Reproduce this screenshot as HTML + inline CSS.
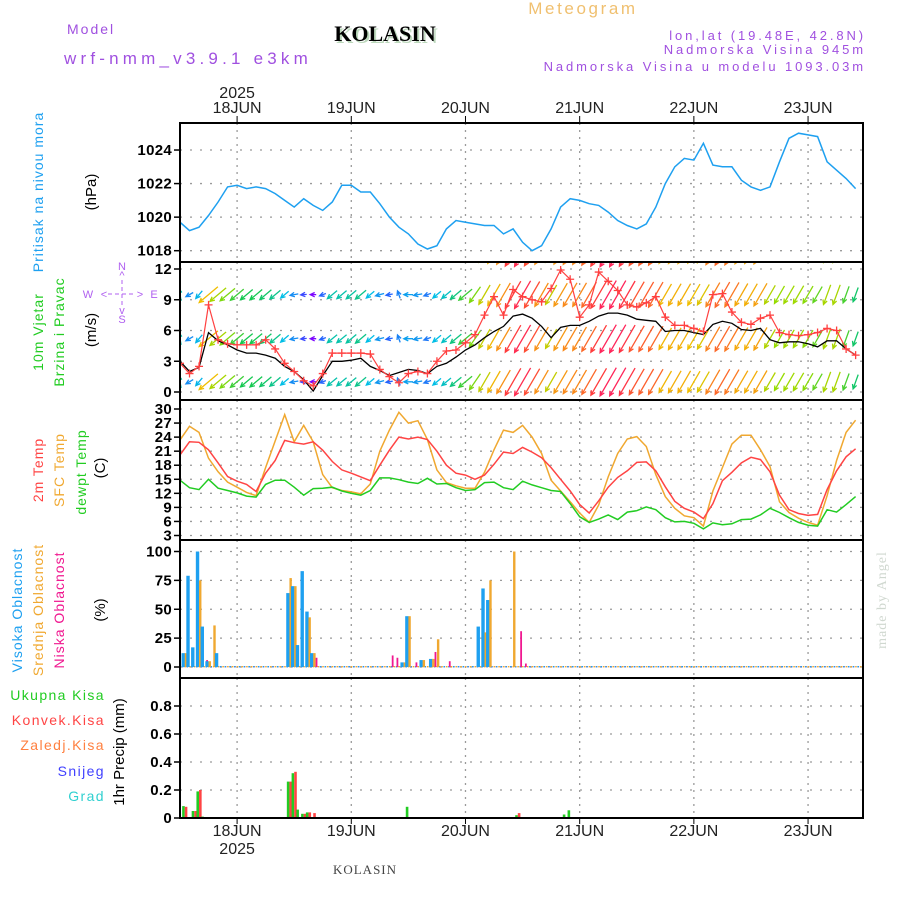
<!DOCTYPE html>
<html><head><meta charset="utf-8"><style>
html,body{margin:0;padding:0;background:#fff;}
svg{display:block;font-family:"Liberation Sans",sans-serif;}
</style></head><body>
<svg id="chart" width="900" height="900" viewBox="0 0 900 900" xmlns="http://www.w3.org/2000/svg">
<defs>
<clipPath id="cp1"><rect x="180" y="123" width="683" height="139"/></clipPath>
<clipPath id="cp2"><rect x="180" y="262" width="683" height="138"/></clipPath>
<clipPath id="cp3"><rect x="180" y="400" width="683" height="140"/></clipPath>
<clipPath id="cp4"><rect x="180" y="540" width="683" height="138"/></clipPath>
<clipPath id="cp5"><rect x="180" y="678" width="683" height="140"/></clipPath>
</defs>
<g>
<text x="583" y="14" font-size="17" fill="#f0c070" text-anchor="middle" letter-spacing="2.6">Meteogram</text>
<text x="67" y="34" font-size="14" fill="#a050e0" letter-spacing="2">Model</text>
<text x="64" y="64" font-size="17" fill="#a050e0" letter-spacing="4.2">wrf-nmm_v3.9.1 e3km</text>
<text x="387" y="43" font-size="22" font-weight="bold" font-family="Liberation Serif,serif" fill="#bcd8bc" text-anchor="middle">KOLASIN</text>
<text x="385" y="41" font-size="22" font-weight="bold" font-family="Liberation Serif,serif" fill="#000" text-anchor="middle">KOLASIN</text>
<text x="866" y="40" font-size="13" fill="#a050e0" text-anchor="end" letter-spacing="2.9">lon,lat (19.48E, 42.8N)</text>
<text x="866" y="54" font-size="13" fill="#a050e0" text-anchor="end" letter-spacing="2.9">Nadmorska Visina 945m</text>
<text x="866" y="71" font-size="13" fill="#a050e0" text-anchor="end" letter-spacing="2.9">Nadmorska Visina u modelu 1093.03m</text>
</g>
<g>
<text transform="translate(43,192) rotate(-90)" font-size="14" fill="#1ea0f0" text-anchor="middle" letter-spacing="1">Pritisak na nivou mora</text>
<text transform="translate(96,192) rotate(-90)" font-size="15" fill="#000" text-anchor="middle">(hPa)</text>
<text transform="translate(43,332) rotate(-90)" font-size="14" fill="#22cc22" text-anchor="middle" letter-spacing="1">10m Vjetar</text>
<text transform="translate(64,332) rotate(-90)" font-size="14" fill="#22cc22" text-anchor="middle" letter-spacing="1">Brzina i Pravac</text>
<text transform="translate(96,330) rotate(-90)" font-size="15" fill="#000" text-anchor="middle">(m/s)</text>
<g fill="#b060f0" font-size="11" text-anchor="middle">
<text x="88" y="298">W</text><text x="154" y="298">E</text><text x="122" y="270">N</text><text x="122" y="323">S</text>
<text x="104" y="298">&lt;</text><text x="140" y="298">&gt;</text><text x="122" y="279">^</text><text x="122" y="314">v</text>
<line x1="108" y1="294" x2="136" y2="294" stroke="#b060f0" stroke-dasharray="4,3"/>
<line x1="122" y1="280" x2="122" y2="308" stroke="#b060f0" stroke-dasharray="4,3"/>
</g>
<text transform="translate(43,470) rotate(-90)" font-size="14" fill="#ff4444" text-anchor="middle" letter-spacing="1">2m Temp</text>
<text transform="translate(64,470) rotate(-90)" font-size="14" fill="#f0a830" text-anchor="middle" letter-spacing="1">SFC Temp</text>
<text transform="translate(86,472) rotate(-90)" font-size="14" fill="#22cc22" text-anchor="middle" letter-spacing="1">dewpt Temp</text>
<text transform="translate(105,468) rotate(-90)" font-size="15" fill="#000" text-anchor="middle">(C)</text>
<text transform="translate(22,610) rotate(-90)" font-size="14" fill="#1ea0f0" text-anchor="middle" letter-spacing="1">Visoka Oblacnost</text>
<text transform="translate(43,610) rotate(-90)" font-size="14" fill="#f0a830" text-anchor="middle" letter-spacing="1">Srednja Oblacnost</text>
<text transform="translate(64,610) rotate(-90)" font-size="14" fill="#f01890" text-anchor="middle" letter-spacing="1">Niska Oblacnost</text>
<text transform="translate(105,610) rotate(-90)" font-size="15" fill="#000" text-anchor="middle">(%)</text>
<text x="105" y="700" font-size="14" fill="#22cc22" text-anchor="end" letter-spacing="1.4">Ukupna  Kisa</text>
<text x="105" y="725" font-size="14" fill="#ff4444" text-anchor="end" letter-spacing="1.4">Konvek.Kisa</text>
<text x="105" y="750" font-size="14" fill="#ff8040" text-anchor="end" letter-spacing="1.4">Zaledj.Kisa</text>
<text x="105" y="776" font-size="14" fill="#4040ff" text-anchor="end" letter-spacing="1.4">Snijeg</text>
<text x="105" y="801" font-size="14" fill="#30d0d0" text-anchor="end" letter-spacing="1.4">Grad</text>
<text transform="translate(124,752) rotate(-90)" font-size="15" fill="#000" text-anchor="middle">1hr Precip (mm)</text>
</g>
<text transform="translate(886,600) rotate(-90)" font-size="14" fill="#d0d8d0" font-family="Liberation Serif,serif" text-anchor="middle" letter-spacing="1">made by Angel</text>
<text x="365" y="874" font-size="13" fill="#444" font-family="Liberation Serif,serif" text-anchor="middle" letter-spacing="1">KOLASIN</text>
<g id="plots"></g>
</svg>
<script>
// time: 2-hourly from 17JUN 12Z (hour 0)
const hours = [];
for (let i = 0; i < 72; i++) hours.push(i * 2);
const dayLabels = ['18JUN','19JUN','20JUN','21JUN','22JUN','23JUN'];
const dayHours = [12, 36, 60, 84, 108, 132];

const pressure = [1019.7,1019.2,1019.4,1020.1,1020.9,1021.8,1021.9,1021.7,1021.8,1021.7,1021.4,1021.0,1020.6,1021.1,1020.7,1020.4,1020.9,1021.9,1021.9,1021.5,1021.5,1020.8,1020.0,1019.4,1019.0,1018.4,1018.1,1018.3,1019.3,1019.8,1019.7,1019.6,1019.5,1019.5,1019.0,1019.3,1018.5,1018.0,1018.3,1019.3,1020.6,1021.1,1021.0,1020.8,1020.7,1020.3,1019.8,1019.5,1019.3,1019.6,1020.6,1022.0,1023.0,1023.5,1023.4,1024.4,1023.1,1023.0,1023.0,1022.2,1021.8,1021.6,1021.8,1023.3,1024.7,1025.0,1024.9,1024.8,1023.3,1022.8,1022.3,1021.7];
const pressureTicks = [1018,1020,1022,1024];

const windSpeed = [3.0,2.0,2.4,5.8,5.0,4.6,4.1,3.8,3.8,3.6,3.3,2.5,2.0,1.2,0.1,1.6,3.0,3.0,3.1,3.3,2.5,2.1,1.6,1.9,2.2,2.1,1.8,2.5,2.8,3.4,4.1,4.6,5.3,5.9,6.4,7.4,7.6,7.2,6.4,5.3,6.3,6.5,6.5,6.9,7.4,7.7,7.7,7.5,7.1,7.0,6.9,5.9,6.0,6.0,5.8,5.6,6.6,6.9,6.7,6.1,6.0,6.2,5.1,4.8,4.9,4.9,4.7,4.4,5.0,5.0,4.2,3.6];
const windGust = [2.8,1.8,2.5,8.5,5.1,4.7,4.6,4.6,4.6,5.1,4.2,2.8,2.0,1.1,0.6,1.8,3.8,3.8,3.8,3.8,3.7,2.2,1.5,0.9,1.8,2.0,1.8,3.0,4.0,4.1,4.8,5.6,7.5,9.3,7.5,10.0,9.3,9.0,8.8,10.1,11.9,11.0,7.3,8.5,11.7,10.8,9.9,8.5,8.3,8.7,9.3,7.3,6.5,6.5,6.2,5.9,9.5,9.6,7.8,6.8,6.6,7.2,7.5,5.8,5.6,5.5,5.6,5.8,6.2,6.0,4.2,3.6];
// arrow pointing direction (screen degrees, 0=east, 90=south)
const windDir = [260,150,130,140,140,140,140,140,140,140,140,140,170,175,180,160,140,140,140,140,140,165,170,250,180,170,160,140,140,140,140,125,120,120,120,120,120,120,120,120,120,120,120,120,120,120,120,120,120,120,120,120,120,120,120,120,120,120,120,120,120,120,120,120,120,120,120,120,110,110,110,110];
const windRows = [1.0, 5.2, 9.5, 13.6];
const windTicks = [0,3,6,9,12];

const temp2m = [20.2,23.0,22.9,21.3,18.5,15.6,14.6,13.9,12.4,16.3,19.0,23.3,22.8,22.5,23.0,21.2,18.8,17.0,16.3,15.5,14.7,18.0,21.2,24.0,23.6,24.0,23.5,21.0,18.0,16.3,15.9,15.0,15.9,18.2,20.8,20.5,21.8,20.8,19.6,17.5,15.0,12.5,9.6,7.8,10.4,13.3,15.4,16.8,18.6,18.7,16.8,13.4,10.3,8.8,8.0,6.6,9.8,14.7,16.5,18.5,19.7,19.2,16.6,11.6,8.5,7.7,7.3,7.5,12.8,16.8,19.8,21.5];
const tempSfc = [23.4,26.3,25.0,19.5,16.6,14.4,13.3,12.2,11.5,17.5,23.2,28.8,23.0,26.5,23.0,16.0,13.2,12.6,12.3,11.9,14.0,21.0,25.5,29.3,27.0,27.5,23.5,17.0,14.3,13.6,13.1,13.1,16.5,21.3,25.5,25.0,26.5,24.0,20.5,14.8,12.5,10.2,7.8,5.8,9.5,15.5,20.5,23.6,24.1,22.0,16.0,11.3,8.8,7.2,6.8,5.0,12.5,17.5,22.5,24.4,24.4,21.3,17.7,10.2,7.9,6.7,5.8,5.2,11.5,19.0,25.0,27.6];
const dewpoint = [14.8,13.2,12.8,15.0,13.1,12.6,12.1,11.4,11.2,13.9,14.8,14.8,13.3,11.6,13.0,13.1,13.3,12.5,12.0,11.6,12.6,15.3,15.3,14.9,14.4,14.1,15.2,14.0,14.1,13.2,12.6,12.8,14.3,14.4,13.2,12.8,14.6,13.8,13.2,12.6,12.4,9.8,7.0,5.8,6.5,7.4,6.4,8.0,8.3,9.1,8.5,6.8,5.9,6.0,5.6,4.4,5.7,5.3,5.5,6.4,6.5,7.4,8.8,7.9,6.8,5.8,5.2,5.0,8.5,8.0,9.6,11.3];
const tempTicks = [3,6,9,12,15,18,21,24,27,30];

const cloudHours = [1,2,3,4,5,6,7,8,23,24,25,26,27,28,44,45,47,48,49,51,52,53,54,56,63,64,65,70,71,72];
const cloudHigh  = [12,79,17,100,35,5,0,12,64,70,19,83,48,12,0,0,4,44,0,6,0,7,0,0,35,68,58,0,0,0];
const cloudMid   = [12,0,0,75,0,5,36,0,77,70,0,0,43,12,0,0,4,44,0,6,0,7,24,0,0,30,75,100,0,0];
const cloudLow   = [0,10,0,0,6,0,0,0,0,0,45,26,0,8,10,8,0,0,4,0,2,13,0,5,0,0,0,0,31,3];
const cloudTicks = [0,25,50,75,100];

const precipHours = [1,3,4,5,23,24,25,26,27,28,48,53,71,81,82];
const precipTotal = [0.085,0.05,0.19,0.01,0.26,0.32,0.06,0.03,0.04,0.0,0.08,0.0,0.02,0.025,0.055];
const precipConv  = [0.08,0.05,0.2,0.0,0.26,0.33,0.0,0.03,0.04,0.035,0.0,0.005,0.035,0.0,0.0];
const precipTicks = [0,0.2,0.4,0.6,0.8];
const precipTickLabels = ['0','0.2','0.4','0.6','0.8'];

const NS = 'http://www.w3.org/2000/svg';
const root = document.getElementById('plots');
function el(tag, attrs, parent) {
  const e = document.createElementNS(NS, tag);
  for (const k in attrs) e.setAttribute(k, attrs[k]);
  (parent || root).appendChild(e);
  return e;
}
const X0 = 180, X1 = 863, PXH = 4.758;
const xOf = h => X0 + h * PXH;
const yP = p => 250.7 - (p - 1018) * 16.78;
const yW = w => 392 - w * 10.25;
const yT = t => 535.5 - (t - 3) * 4.685;
const yC = c => 667 - c * 1.155;
const yR = v => 818 - v * 140;
const panels = [[123,262,yP,pressureTicks,null,'pressure'],[262,400,yW,windTicks,null,'wind'],[400,540,yT,tempTicks,null,'temperature'],[540,678,yC,cloudTicks,null,'cloud'],[678,818,yR,precipTicks,precipTickLabels,'precip']];

panels.forEach((p, pi) => {
  const g = el('g', {});
  
  
  dayHours.forEach(h => {
    const ln = el('line', {x1: xOf(h), x2: xOf(h), y1: p[0], y2: p[1], stroke: '#9a9a9a', 'stroke-width': 1.3, 'stroke-dasharray': '2,5'}, g);
    
    
  });
  p[3].forEach((t, i) => {
    const y = p[2](t);
    const gl = el('line', {x1: X0, x2: X1, y1: y, y2: y, stroke: '#9a9a9a', 'stroke-width': 1.3, 'stroke-dasharray': '2,8'}, g);
    
    
    el('line', {x1: X0 - 6, x2: X0, y1: y, y2: y, stroke: '#000', 'stroke-width': 1.5}, g);
    const tx = el('text', {x: X0 - 8, y: y + 5, 'font-size': 15, 'text-anchor': 'end', fill: '#000', 'font-weight': 'bold', 'letter-spacing': '0.3'}, g);
    tx.textContent = p[4] ? p[4][i] : String(t);
    
    
  });
});

dayLabels.forEach((d, i) => {
  const x = xOf(dayHours[i]);
  const t1 = el('text', {x: x, y: 113, 'font-size': 16, 'text-anchor': 'middle', fill: '#222'});
  t1.textContent = d;
  
  
  el('line', {x1: x, x2: x, y1: 116, y2: 123, stroke: '#000'});
  const t2 = el('text', {x: x, y: 836, 'font-size': 16, 'text-anchor': 'middle', fill: '#222'});
  t2.textContent = d;
  
  
});
const y1 = el('text', {x: xOf(12), y: 98, 'font-size': 16, 'text-anchor': 'middle', fill: '#222'});
y1.textContent = '2025';


const y2 = el('text', {x: xOf(12), y: 854, 'font-size': 16, 'text-anchor': 'middle', fill: '#222'});
y2.textContent = '2025';



function linePath(vals, yf) {
  return vals.map((v, i) => (i ? 'L' : 'M') + xOf(hours[i]).toFixed(1) + ' ' + yf(v).toFixed(1)).join(' ');
}
const pl = el('path', {d: linePath(pressure, yP), fill: 'none', stroke: '#1ea0f0', 'stroke-width': 1.5, 'clip-path': 'url(#cp1)'});



function spdColor(s) {
  const stops = [[0,[130,0,255]],[1.5,[40,90,255]],[2.5,[0,190,230]],[3.8,[20,200,80]],[4.8,[150,220,0]],[5.8,[240,190,0]],[6.6,[250,130,30]],[7.4,[255,60,60]],[8.2,[255,0,140]]];
  if (s <= stops[0][0]) return 'rgb(' + stops[0][1] + ')';
  for (let i = 1; i < stops.length; i++) {
    if (s <= stops[i][0]) {
      const a = stops[i-1], b = stops[i], f = (s - a[0]) / (b[0] - a[0]);
      return 'rgb(' + a[1].map((c, k) => Math.round(c + (b[1][k] - c) * f)).join(',') + ')';
    }
  }
  return 'rgb(' + stops[stops.length-1][1] + ')';
}
const wg = el('g', {'clip-path': 'url(#cp2)'});


windRows.forEach(row => {
  windSpeed.forEach((s, i) => {
    const len = Math.max(6, s * 4.2);
    const a = windDir[i] * Math.PI / 180;
    const cx = xOf(hours[i]), cy = yW(row);
    const hx = cx + Math.cos(a) * len / 2, hy = cy + Math.sin(a) * len / 2;
    const tx = cx - Math.cos(a) * len / 2, ty = cy - Math.sin(a) * len / 2;
    const c = spdColor(s);
    const h1 = a + Math.PI - 0.45, h2 = a + Math.PI + 0.45;
    const ar = el('path', {d: 'M' + tx.toFixed(1) + ' ' + ty.toFixed(1) + ' L' + hx.toFixed(1) + ' ' + hy.toFixed(1) + ' M' + (hx + Math.cos(h1) * 5).toFixed(1) + ' ' + (hy + Math.sin(h1) * 5).toFixed(1) + ' L' + hx.toFixed(1) + ' ' + hy.toFixed(1) + ' L' + (hx + Math.cos(h2) * 5).toFixed(1) + ' ' + (hy + Math.sin(h2) * 5).toFixed(1), fill: 'none', stroke: c, 'stroke-width': 1.3}, wg);
    
    
  });
});
const wl = el('path', {d: linePath(windSpeed, yW), fill: 'none', stroke: '#000', 'stroke-width': 1.3, 'clip-path': 'url(#cp2)'});


const gl = el('path', {d: linePath(windGust, yW), fill: 'none', stroke: '#ff4040', 'stroke-width': 1.2, 'clip-path': 'url(#cp2)'});


windGust.forEach((g, i) => {
  const x = xOf(hours[i]), y = yW(g);
  const m = el('path', {d: 'M' + (x-4) + ' ' + y + ' L' + (x+4) + ' ' + y + ' M' + x + ' ' + (y-4) + ' L' + x + ' ' + (y+4), stroke: '#ff4040', 'stroke-width': 1.3, 'clip-path': 'url(#cp2)'});
  
  
});

[[tempSfc,'#f0a830','sfc-temp-line'],[temp2m,'#ff4444','temp-2m-line'],[dewpoint,'#22cc22','dewpoint-line']].forEach(s => {
  const p = el('path', {d: linePath(s[0], yT), fill: 'none', stroke: s[1], 'stroke-width': 1.5, 'clip-path': 'url(#cp3)'});
  
  
});

const cg = el('g', {'clip-path': 'url(#cp4)'});


for (let h = 0; h < 144; h++) {
  const x = xOf(h);
  [['#1ea0f0',-3],['#f0a830',-0.5],['#f01890',1.8]].forEach(c => {
    el('rect', {x: x + c[1], y: 666, width: 1.6, height: 1.4, fill: c[0]}, cg);
  });
}
cloudHours.forEach((h, i) => {
  const x = xOf(h);
  [[cloudHigh[i],'#1ea0f0',-3.2,3.4,'high-cloud-bar'],[cloudMid[i],'#f0a830',0,2.4,'mid-cloud-bar'],[cloudLow[i],'#f01890',2.4,1.8,'low-cloud-bar']].forEach(b => {
    if (b[0] <= 0) return;
    const r = el('rect', {x: x + b[2], y: yC(b[0]), width: b[3], height: yC(0) - yC(b[0]), fill: b[1]}, cg);
    
    
  });
});

const rg = el('g', {'clip-path': 'url(#cp5)'});


precipHours.forEach((h, i) => {
  const x = xOf(h);
  if (precipTotal[i] > 0) {
    const r = el('rect', {x: x - 2.6, y: yR(precipTotal[i]), width: 2.6, height: precipTotal[i] * 140, fill: '#22cc22'}, rg);
    
    
  }
  if (precipConv[i] > 0) {
    const r = el('rect', {x: x, y: yR(precipConv[i]), width: 2.6, height: precipConv[i] * 140, fill: '#ff4444'}, rg);
    
    
  }
});

[123,262,400,540,678,818].forEach(y => {
  el('line', {x1: X0 - 1, x2: X1 + 1, y1: y, y2: y, stroke: '#000', 'stroke-width': 2});
});
el('line', {x1: X0, x2: X0, y1: 122, y2: 819, stroke: '#000', 'stroke-width': 2});
el('line', {x1: X1, x2: X1, y1: 122, y2: 819, stroke: '#000', 'stroke-width': 2});
dayHours.forEach(h => el('line', {x1: xOf(h), x2: xOf(h), y1: 818, y2: 824, stroke: '#000'}));
</script>
</body></html>
